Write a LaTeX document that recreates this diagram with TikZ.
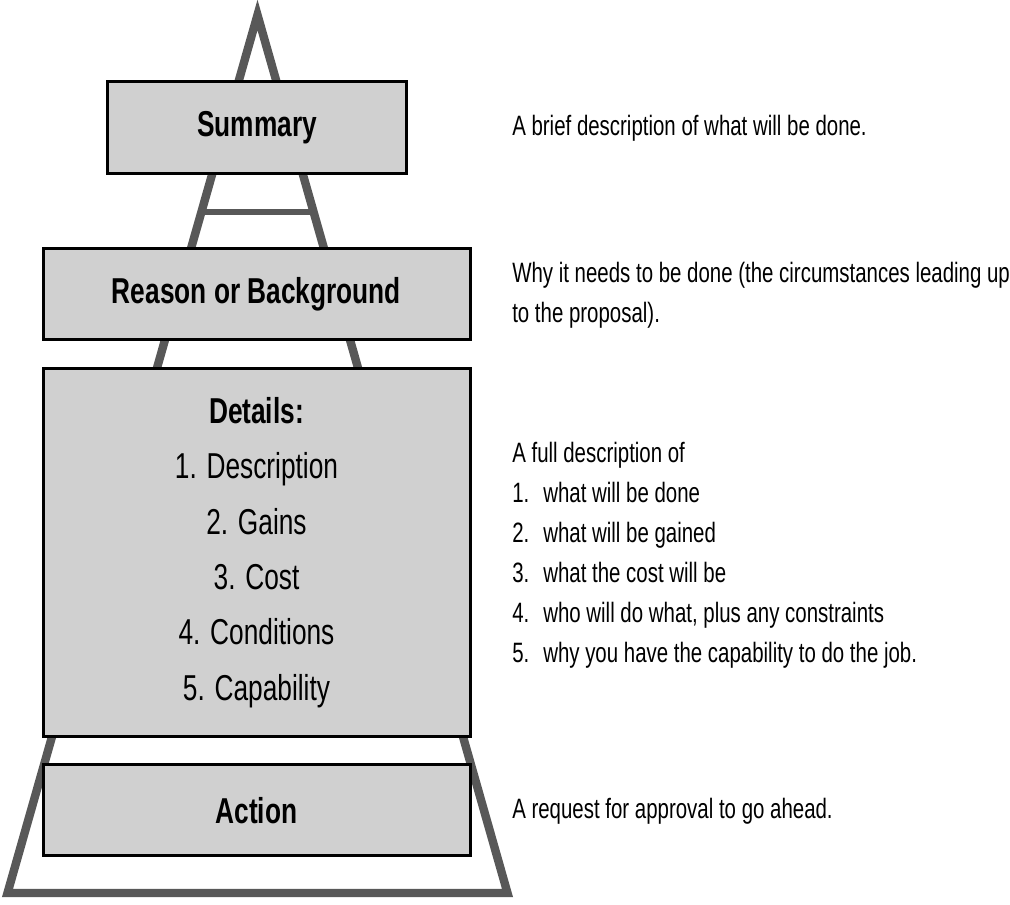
\documentclass[tikz,border=0pt]{standalone}
\usepackage{fontspec}
\setmainfont{Liberation Sans}[FakeStretch=0.73]
\usepackage{tikz}
\usepackage{xcolor}
\usetikzlibrary{calc}

\definecolor{boxgray}{RGB}{208,208,208}
\definecolor{framegray}{RGB}{88,88,88}

\tikzset{
  stage/.style={draw=black, line width=2.25pt, fill=boxgray, inner sep=0pt,
                align=center, font=\fontsize{27}{41.5}\selectfont},
  note/.style={anchor=base west, inner sep=0pt, font=\fontsize{21}{30}\selectfont},
  frame/.style={draw=framegray, line width=6.3pt, line join=miter}
}

\begin{document}
\begin{tikzpicture}[x=0.75pt, y=-0.75pt]
            \useasboundingbox (0,0) rectangle (1010,904);

            % the pyramid behind the boxes
            \coordinate (apex) at (257.5,15);
            \coordinate (bl)   at (7.5,893);
            \coordinate (br)   at (507.5,893);
            \draw[frame] (apex) -- (bl) -- (br) -- cycle;

            % rung between summary and reason
            \coordinate (rungL) at ($(apex)!0.2244!(bl)$);
            \coordinate (rungR) at ($(apex)!0.2244!(br)$);
            \draw[draw=framegray, line width=4.3pt] (rungL) -- (rungR);

            % boxes
            \node[stage, minimum width=224.25pt, minimum height=69pt]   (summary) at (257,127.5) {\bfseries Summary};
            \node[stage, minimum width=320.25pt, minimum height=68.6pt] (reason)  at (256.5,294.2) {\bfseries Reason or Background};
            \node[stage, minimum width=320.25pt, minimum height=276pt]  (details) at (256.5,552.5)
                {{\bfseries Details:}\\1. Description\\2. Gains\\3. Cost\\4. Conditions\\5. Capability};
            \node[stage, minimum width=320.25pt, minimum height=67.9pt] (action)  at (256.5,810.2) {\bfseries Action};

            % notes on the right
            \node[note] (brief) at (512,135) {A brief description of what will be done.};

            \node[note] (why1) at (512,282) {Why it needs to be done (the circumstances leading up};
            \node[note] (why2) at (512,322) {to the proposal).};

            \node[note] (full) at (512,462) {A full description of};
            \node[note] (n1) at (512,502) {1.};
            \node[note] (t1) at (543,502) {what will be done};
            \node[note] (n2) at (512,542) {2.};
            \node[note] (t2) at (543,542) {what will be gained};
            \node[note] (n3) at (512,582) {3.};
            \node[note] (t3) at (543,582) {what the cost will be};
            \node[note] (n4) at (512,622) {4.};
            \node[note] (t4) at (543,622) {who will do what, plus any constraints};
            \node[note] (n5) at (512,662) {5.};
            \node[note] (t5) at (543,662) {why you have the capability to do the job.};

            \node[note] (request) at (512,818) {A request for approval to go ahead.};
        \end{tikzpicture}
\end{document}
